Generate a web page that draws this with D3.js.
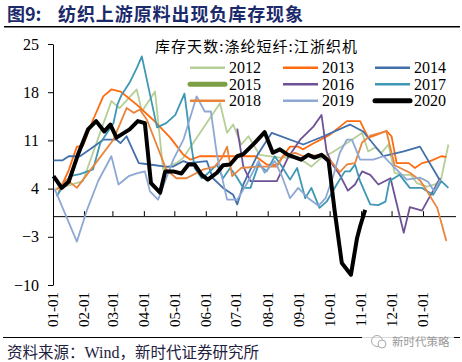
<!DOCTYPE html>
<html><head><meta charset="utf-8">
<script src="https://cdn.jsdelivr.net/npm/d3@7"></script>
<style>body{margin:0;background:#fff}svg{display:block}</style>
</head><body>
<svg id="c" width="462" height="362"></svg>
<script>
// ---- data ----
const years = ["2012","2013","2014","2015","2016","2017","2018","2019","2020"];
const colors = ["#B5CF96","#FF6B0F","#4270AA","#7F9F47","#6F5195","#3E98B4","#E8843C","#8EA8D5","#000000"];
const thick = [false,false,false,true,false,false,false,false,true];
const yTicks = [-10,-3,4,11,18,25];
// [day of year (0 = 01-01), value]
const s2012 = [[3,4.0],[17,4.5],[30,5.1],[58,16.7],[66,15.7],[83,18.4],[88,15.2],[101,18.1],[109,6.8],[122,7.7],[129,8.5],[165,16.4],[172,12.1],[178,13.3],[186,10.4],[193,11.6],[204,8.9],[224,8.5],[242,8.5],[255,7.2],[265,8.5],[275,9.2],[288,10.4],[298,11.4],[305,12.1],[311,9.4],[318,10.0],[324,9.2],[331,10.4],[337,6.3],[345,6.0],[353,6.0],[359,4.8],[369,4.3],[377,4.6],[383,5.5],[390,10.4]];
const s2013 = [[6,3.4],[16,6.7],[24,10.1],[30,10.2],[40,14.0],[50,17.4],[58,18.4],[67,18.1],[83,16.2],[99,14.0],[116,11.4],[129,8.9],[136,8.2],[145,8.7],[200,8.7],[211,7.5],[221,7.4],[227,8.7],[234,10.1],[242,10.1],[247,9.7],[255,10.4],[273,11.8],[290,13.8],[303,13.8],[311,11.4],[319,11.8],[329,12.4],[334,11.6],[339,7.7],[346,7.7],[351,7.7],[357,7.0],[364,7.7],[372,8.0],[383,8.7],[388,8.6]];
const s2014 = [[1,8.1],[10,8.1],[16,8.7],[27,8.7],[37,9.7],[50,11.1],[63,11.1],[67,10.6],[73,11.6],[85,7.7],[96,7.5],[111,7.2],[119,7.2],[129,8.0],[134,7.7],[152,8.0],[158,5.5],[168,4.1],[178,3.1],[182,1.7],[188,4.6],[195,6.8],[202,8.9],[216,12.1],[247,10.4],[267,11.6],[293,13.3],[306,12.3],[326,8.7],[346,9.4],[362,10.1],[382,5.1]];
const s2015 = [];
const s2016 = [[182,12.7],[188,7.2],[195,5.1],[201,5.1],[221,5.1],[232,8.5],[244,11.1],[257,13.0],[265,14.7],[270,9.4],[275,7.7],[283,6.0],[291,3.7],[298,4.6],[305,6.5],[313,6.0],[321,4.6],[333,5.5],[346,-2.4],[352,1.3],[364,0.8],[370,2.4],[382,5.5]];
const s2017 = [[4,2.9],[17,5.8],[27,6.1],[40,6.8],[47,10.6],[60,13.5],[64,16.2],[68,17.6],[76,19.4],[83,21.5],[88,23.2],[103,12.9],[112,13.5],[121,14.7],[130,17.8],[135,12.1],[140,7.0],[147,5.5],[153,6.2],[162,7.5],[168,5.5],[175,7.0],[181,5.8],[188,4.1],[195,4.1],[203,7.5],[211,6.5],[219,8.7],[226,7.2],[234,5.3],[241,7.0],[249,2.6],[255,4.1],[263,1.2],[270,2.1],[280,4.6],[288,6.5],[293,6.5],[298,7.5],[303,5.1],[313,1.7],[321,1.6],[328,2.1],[332,5.1],[342,6.0],[352,4.1],[364,4.1],[375,3.1],[383,5.1],[390,4.1]];
const s2018 = [[4,3.8],[14,5.3],[24,4.1],[60,11.1],[73,15.7],[80,15.0],[86,15.5],[93,14.0],[112,6.8],[122,5.5],[132,5.5],[149,6.8],[160,7.2],[167,8.5],[172,10.1],[177,5.8],[186,7.0],[195,7.1],[204,7.2],[221,7.2],[227,8.7],[239,9.2],[247,8.7],[267,8.9],[273,8.2],[283,6.4],[290,7.5],[298,7.7],[305,10.7],[313,11.7],[329,12.3],[337,7.4],[352,6.3],[362,5.2],[369,3.6],[379,1.2],[388,-3.6]];
const s2019 = [[2,4.0],[24,-3.7],[34,0.9],[45,5.1],[58,8.7],[65,4.6],[75,5.8],[83,6.2],[91,6.5],[96,3.6],[104,2.4],[119,8.2],[129,11.1],[142,17.4],[150,15.2],[156,15.2],[162,8.9],[172,2.4],[182,2.4],[191,4.6],[203,8.0],[209,6.3],[219,8.0],[226,5.8],[234,2.6],[242,4.1],[252,2.6],[262,1.5],[269,2.6],[277,6.0],[283,9.2],[290,11.1],[295,11.1],[303,8.2],[316,8.2],[326,8.7],[336,7.2],[349,5.3],[362,5.6],[370,5.0],[376,3.6],[382,5.3]];
const s2020 = [[1,5.8],[9,4.1],[16,5.0],[25,8.9],[35,12.6],[43,13.8],[51,12.3],[57,13.3],[63,11.4],[76,12.6],[84,13.8],[91,13.5],[97,4.8],[106,3.4],[111,6.5],[119,6.5],[127,6.2],[134,7.5],[140,7.5],[147,6.0],[153,5.3],[162,6.3],[168,7.4],[175,7.5],[182,8.7],[188,9.0],[199,10.6],[209,12.2],[217,9.2],[224,9.7],[232,8.9],[245,8.2],[252,8.9],[258,8.5],[265,8.9],[272,8.0],[278,0.7],[285,-6.8],[294,-8.5],[300,-3.2],[303,-1.5],[308,0.9]];
const series = [s2012,s2013,s2014,s2015,s2016,s2017,s2018,s2019,s2020];

// ---- chart ----
const svg = d3.select("#c");
const base = Date.UTC(2019,0,1);
const toDate = d => new Date(base + d*864e5);
const x = d3.scaleUtc().domain([toDate(0), toDate(397)]).range([52.5,455.5]);
const y = d3.scaleLinear().domain([-10,25]).range([285,44]);
const monthTicks = d3.utcMonth.range(toDate(0), toDate(366));
const fmt = d3.utcFormat("%m-%d");

// title
svg.append("text").attr("x",7).attr("y",21).attr("fill","#1B2A6B")
  .attr("font-family","'Noto Sans CJK SC'").attr("font-weight","bold").attr("font-size",18).text("图9:");
svg.append("text").attr("x",58).attr("y",21).attr("fill","#1B2A6B")
  .attr("font-family","'Noto Sans CJK SC'").attr("font-weight","bold").attr("font-size",18)
  .attr("textLength",245).attr("lengthAdjust","spacing").text("纺织上游原料出现负库存现象");
svg.append("line").attr("x1",4).attr("x2",460).attr("y1",26.7).attr("y2",26.7).attr("stroke","#000").attr("stroke-width",1.5);

// y axis
const ya = svg.append("g").attr("transform","translate(53,0)")
  .call(d3.axisLeft(y).tickValues(yTicks).tickSize(5).tickSizeOuter(0).tickPadding(9));
ya.selectAll("text").attr("font-family","'Liberation Serif'").attr("font-size",16).attr("fill","#000");
ya.selectAll("line,path").attr("stroke","#000");

// x axis (at zero)
const xa = svg.append("g").attr("transform",`translate(0,${y(0)})`)
  .call(d3.axisTop(x).tickValues(monthTicks.slice(1)).tickSize(5).tickSizeOuter(0).tickFormat(""));
xa.selectAll("line,path").attr("stroke","#000");

// x labels at bottom
svg.append("g").selectAll("text").data(monthTicks).join("text")
  .attr("transform",d=>`translate(${x(d)},292) rotate(-90)`)
  .attr("text-anchor","end").attr("dy","0.35em")
  .attr("font-family","'Liberation Serif'").attr("font-size",15).attr("fill","#000")
  .text(d=>fmt(d));

// lines
const line = d3.line().x(d=>x(toDate(d[0]))).y(d=>y(d[1]));
series.forEach((s,i)=>{
  if(!s.length) return;
  svg.append("path").datum(s).attr("d",line).attr("fill","none")
    .attr("stroke",colors[i]).attr("stroke-width",thick[i]?4:1.8)
    .attr("stroke-linejoin","round");
});

// legend
svg.append("text").attr("x",155).attr("y",52).attr("font-family","'Noto Sans CJK SC'")
  .attr("font-size",15).attr("fill","#000").attr("textLength",202).attr("lengthAdjust","spacing")
  .text("库存天数:涤纶短纤:江浙织机");
const colX = [190,283,375], rowY = [67.7,84.2,100.8];
years.forEach((yr,i)=>{
  const cx = colX[i%3], cy = rowY[Math.floor(i/3)];
  svg.append("line").attr("x1",cx).attr("x2",cx+35).attr("y1",cy).attr("y2",cy)
    .attr("stroke",colors[i]).attr("stroke-width",thick[i]?5:2.5).attr("stroke-linecap",thick[i]?"round":"butt");
  svg.append("text").attr("x",cx+39).attr("y",cy+5.6).attr("font-family","'Liberation Serif'")
    .attr("font-size",16).attr("fill","#000").text(yr);
});

// footer
svg.append("line").attr("x1",3).attr("x2",460).attr("y1",337.5).attr("y2",337.5).attr("stroke","#000").attr("stroke-width",1.2);
const src = svg.append("text").attr("x",7).attr("y",358).attr("font-size",15.5).attr("fill","#1E2140")
  .attr("font-family","'Noto Sans CJK SC'");
src.append("tspan").text("资料来源：");
src.append("tspan").attr("font-family","'Liberation Serif'").attr("font-size",16).text("Wind");
src.append("tspan").text("，新时代证券研究所");
// watermark
svg.append("rect").attr("x",362).attr("y",332).attr("width",92).attr("height",18).attr("fill","#fff").attr("opacity",0.85);
svg.append("circle").attr("cx",377).attr("cy",341).attr("r",5.5).attr("fill","none").attr("stroke","#aaa").attr("stroke-width",1);
svg.append("circle").attr("cx",382).attr("cy",344).attr("r",4).attr("fill","#fff").attr("stroke","#aaa").attr("stroke-width",1);
svg.append("text").attr("x",392).attr("y",345.5).attr("font-family","'Noto Sans CJK SC'").attr("font-size",11.5)
  .attr("fill","#999").text("新时代策略");
</script>
</body></html>
